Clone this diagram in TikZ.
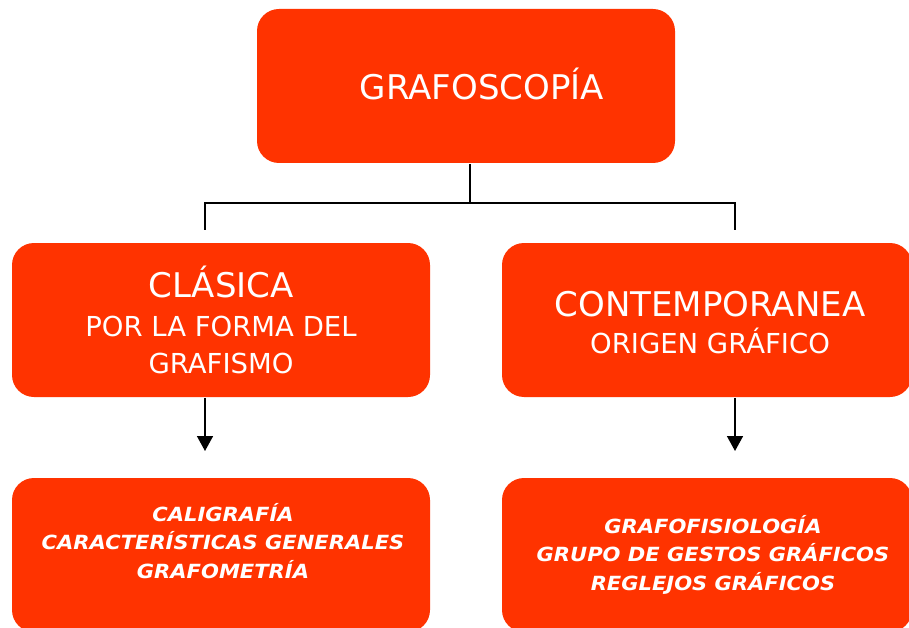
\documentclass[tikz,border=0pt]{standalone}
\usepackage{fontspec}
\setmainfont{DejaVu Sans}
\newfontfamily\itemfont[FakeStretch=1.08]{DejaVu Sans}
\usetikzlibrary{arrows.meta}
\definecolor{boxred}{RGB}{255,51,0}

\begin{document}
\begin{tikzpicture}[x=1pt,y=-1pt,line width=1.6pt,
  box/.style={fill=boxred,rounded corners=22pt,inner sep=0pt,
    minimum height=154pt},
  title text/.style={text=white,font=\fontsize{34}{40}\selectfont},
  sub text/.style={text=white,align=center,
    font=\fontsize{27.5}{36.5}\selectfont},
  item text/.style={text=white,align=center,
    font=\itemfont\bfseries\itshape\fontsize{19.5}{28.5}\selectfont},
  arrow/.style={-{Triangle[width=16pt,length=15pt]}}]

  \useasboundingbox (0,0) rectangle (909,628);

  % boxes
  \node[box,minimum width=418pt] (top) at (466,86) {};
  \node[box,minimum width=418pt] (classic) at (221,320) {};
  \node[box,minimum width=410pt] (modern) at (707,320) {};
  \node[box,minimum width=418pt] (classicitems) at (221,555) {};
  \node[box,minimum width=410pt] (moderitems) at (707,555) {};

  % texts
  \node[title text,anchor=base] (toptext) at (482,100) {GRAFOSCOPÍA};
  \node[sub text] (classictext) at (221,320)
    {{\fontsize{34}{40}\selectfont CLÁSICA}\\[2.5pt]
     POR LA FORMA DEL\\ GRAFISMO};
  \node[sub text] (moderntext) at (710,322.5)
    {{\fontsize{34}{40}\selectfont CONTEMPORANEA}\\ ORIGEN GRÁFICO};
  \node[item text] (classicitemstext) at (223,541)
    {CALIGRAFÍA\\ CARACTERÍSTICAS GENERALES\\ GRAFOMETRÍA};
  \node[item text] (modernitemstext) at (713,554.5)
    {GRAFOFISIOLOGÍA\\ GRUPO DE GESTOS GRÁFICOS\\ REGLEJOS GRÁFICOS};

  % connectors
  \coordinate (split) at (470,203);
  \coordinate (leftend) at (205,230);
  \coordinate (rightend) at (735,230);
  \coordinate (lefttip) at (205,451);
  \coordinate (righttip) at (735,451);

  \draw (split |- top.south) -- (split);
  \draw (leftend) |- (split) -| (rightend);
  \draw[arrow] (lefttip |- classic.south) -- (lefttip);
  \draw[arrow] (righttip |- modern.south) -- (righttip);

\end{tikzpicture}
\end{document}
